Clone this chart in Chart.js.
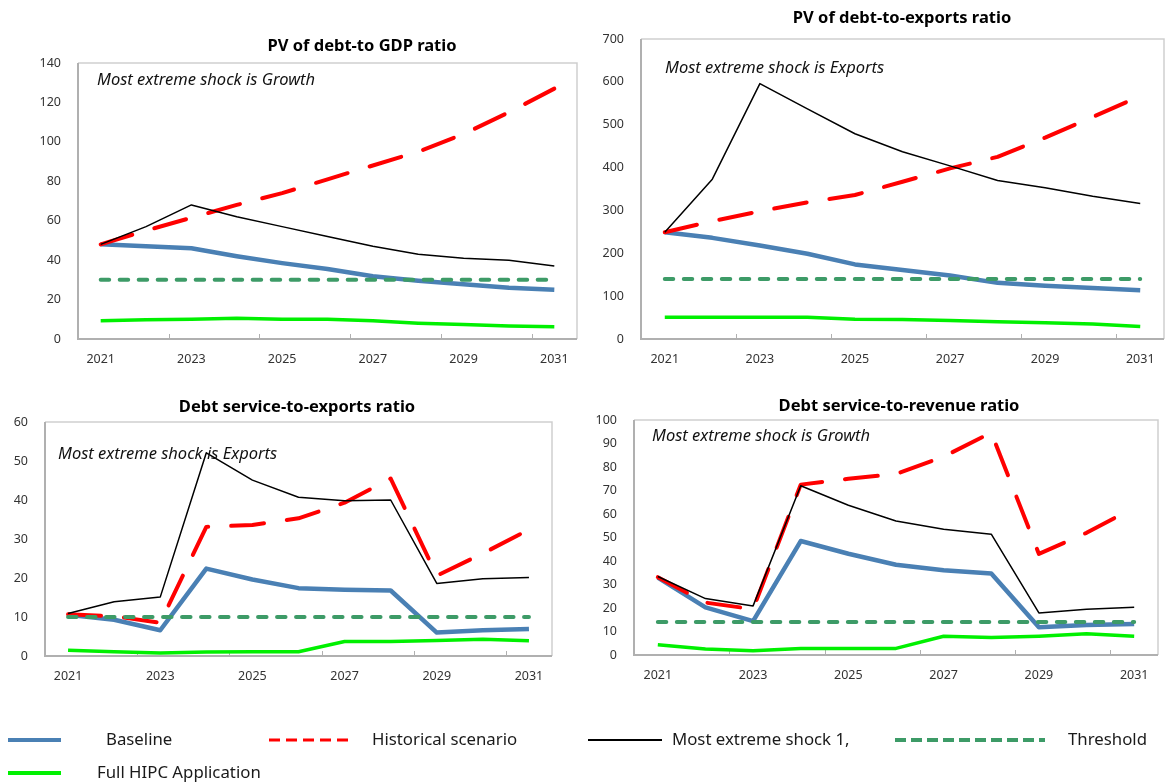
<!DOCTYPE html>
<html>
<head>
<meta charset="utf-8">
<title>Debt sustainability stress tests</title>
<script src="https://cdn.jsdelivr.net/npm/chart.js@4.4.1/dist/chart.umd.min.js"></script>
<style>
  html, body { margin: 0; padding: 0; background: #ffffff; overflow: hidden; }
  #page { position: relative; width: 1167px; height: 783px; font-family: "Noto Sans", sans-serif; }
  #page canvas { position: absolute; }
  .lg { position: absolute; font-size: 16.8px; line-height: 20px; color: #1a1a1a; white-space: nowrap; }
  #swatches { position: absolute; left: 0; top: 0; }
</style>
</head>
<body>
<div id="page">
  <canvas id="gdp" width="543" height="344" style="left:38px;top:25px"></canvas>
  <canvas id="exports" width="567" height="369" style="left:601px;top:0px"></canvas>
  <canvas id="dsExports" width="551" height="301" style="left:5px;top:385px"></canvas>
  <canvas id="dsRevenue" width="568" height="302" style="left:594px;top:383px"></canvas>

  <svg id="swatches" width="1167" height="783">
    <line x1="8" y1="740" x2="61" y2="740" stroke="#4a80b4" stroke-width="4"/>
    <line x1="269" y1="740" x2="353" y2="740" stroke="#ff0000" stroke-width="3" stroke-dasharray="11 6"/>
    <line x1="588" y1="740" x2="662" y2="740" stroke="#000000" stroke-width="2"/>
    <line x1="895" y1="740" x2="1045" y2="740" stroke="#3d9b67" stroke-width="4" stroke-dasharray="11 5"/>
    <line x1="8" y1="773" x2="61" y2="773" stroke="#00f000" stroke-width="4"/>
  </svg>
  <span class="lg" style="left:106px;top:729px">Baseline</span>
  <span class="lg" style="left:372px;top:729px">Historical scenario</span>
  <span class="lg" style="left:672px;top:729px">Most extreme shock 1,</span>
  <span class="lg" style="left:1068px;top:729px">Threshold</span>
  <span class="lg" style="left:97px;top:762px">Full HIPC Application</span>
</div>

<script>
// Projection years
const years = ['2021', '2022', '2023', '2024', '2025', '2026', '2027', '2028', '2029', '2030', '2031'];

// PV of debt-to-GDP ratio
const gdpBaseline   = [48, 47, 46, 42, 38.5, 35.5, 31.8, 29.6, 27.8, 26, 25];
const gdpHistorical = [48, 55, 61.5, 68, 74, 81, 88, 95, 104, 115, 127];
const gdpShock      = [48, 57, 68, 62, 57, 52, 47, 43, 41, 40, 37];
const gdpThreshold  = [30, 30, 30, 30, 30, 30, 30, 30, 30, 30, 30];
const gdpHipc       = [9.3, 9.8, 10, 10.5, 10, 10, 9.2, 8, 7.3, 6.6, 6.2];

// PV of debt-to-exports ratio
const expBaseline   = [249, 236, 218, 199, 174, 161, 148, 131, 124, 119, 114];
const expHistorical = [249, 275, 298, 319, 336, 367, 398, 425, 470, 518, 567];
const expShock      = [249, 373, 596, 537, 479, 437, 404, 370, 353, 333, 316];
const expThreshold  = [140, 140, 140, 140, 140, 140, 140, 140, 140, 140, 140];
const expHipc       = [51, 51, 51, 51, 46, 45.5, 43, 40.5, 38, 35, 29];

// Debt service-to-exports ratio
const dseBaseline   = [10.6, 9.3, 6.6, 22.4, 19.6, 17.4, 17, 16.8, 6, 6.6, 6.9];
const dseHistorical = [10.7, 10.2, 8.5, 33.1, 33.6, 35.3, 39.3, 45.5, 20.6, 26.3, 32.4];
const dseShock      = [10.9, 13.9, 15.1, 52.1, 45.1, 40.7, 39.8, 40, 18.6, 19.8, 20.1];
const dseThreshold  = [10, 10, 10, 10, 10, 10, 10, 10, 10, 10, 10];
const dseHipc       = [1.5, 1.1, 0.8, 1, 1.1, 1.1, 3.7, 3.7, 4, 4.3, 3.9];

// Debt service-to-revenue ratio
const dsrBaseline   = [32.9, 20.3, 14.4, 48.5, 43.1, 38.4, 36.1, 34.7, 11.8, 12.8, 13.2];
const dsrHistorical = [33.1, 22.3, 19.5, 72.5, 75, 77, 84.4, 94.6, 43, 52, 62.7];
const dsrShock      = [33.4, 24, 20.9, 72, 63.7, 57, 53.5, 51.4, 17.9, 19.5, 20.3];
const dsrThreshold  = [14, 14, 14, 14, 14, 14, 14, 14, 14, 14, 14];
const dsrHipc       = [4.4, 2.6, 1.8, 2.8, 2.8, 2.8, 8, 7.4, 8, 9, 8];

// Series names
const seriesNames = ['Baseline', 'Historical scenario', 'Most extreme shock 1', 'Threshold', 'Full HIPC Application'];

Chart.defaults.font.family = '"Noto Sans", sans-serif';
Chart.defaults.color = '#333333';

// Frame, inward tick marks, panel title and shock note
const panelText = {
  id: 'panelText',
  beforeDatasetsDraw(chart) {
    const { ctx, chartArea: a } = chart;
    const xs = chart.scales.x;
    ctx.save();
    ctx.lineWidth = 1.5;
    ctx.strokeStyle = '#cfcfcf';
    ctx.beginPath();
    ctx.moveTo(a.left, a.top); ctx.lineTo(a.right, a.top); ctx.lineTo(a.right, a.bottom);
    ctx.stroke();
    ctx.lineWidth = 2;
    ctx.strokeStyle = '#b0b0b0';
    ctx.beginPath();
    ctx.moveTo(a.left, a.top); ctx.lineTo(a.left, a.bottom); ctx.lineTo(a.right, a.bottom);
    ctx.stroke();
    ctx.lineWidth = 1;
    ctx.beginPath();
    for (let i = 2; i < xs.ticks.length; i += 2) {
      const x = Math.round((xs.getPixelForValue(i - 1) + xs.getPixelForValue(i)) / 2) + 0.5;
      ctx.moveTo(x, a.bottom);
      ctx.lineTo(x, a.bottom - 5);
    }
    ctx.stroke();
    ctx.restore();
  },
  afterDraw(chart, args, opts) {
    const { ctx, chartArea: a } = chart;
    ctx.save();
    ctx.fillStyle = '#000000';
    ctx.textBaseline = 'middle';
    ctx.font = 'bold 16.5px "Noto Sans", sans-serif';
    ctx.textAlign = 'center';
    ctx.fillText(opts.title, (a.left + a.right) / 2 + opts.titleDx, a.top - opts.titleDy);
    ctx.font = 'italic 16.5px "Noto Sans", sans-serif';
    ctx.textAlign = 'left';
    ctx.fillStyle = '#111111';
    ctx.fillText(opts.note, a.left + opts.noteDx, a.top + opts.noteDy);
    ctx.restore();
  }
};

function series(label, data, style) {
  return Object.assign({
    label: label,
    data: data,
    pointRadius: 0,
    pointHoverRadius: 0,
    tension: 0,
    fill: false,
    borderJoinStyle: 'round'
  }, style);
}

function makePanel(id, p) {
  return new Chart(document.getElementById(id), {
    type: 'line',
    data: {
      labels: years,
      datasets: [
        series(seriesNames[0], p.baseline,   { borderColor: '#4a80b4', borderWidth: 4.5, order: 5 }),
        series(seriesNames[1], p.historical, { borderColor: '#ff0000', borderWidth: 4, borderDash: [33, 23], borderCapStyle: 'round', order: 4 }),
        series(seriesNames[2], p.shock,      { borderColor: '#000000', borderWidth: 1.5, order: 3 }),
        series(seriesNames[3], p.threshold,  { borderColor: '#3d9b67', borderWidth: 4, borderDash: [8.5, 10.5], borderCapStyle: 'round', order: 2 }),
        series(seriesNames[4], p.hipc,       { borderColor: '#00f000', borderWidth: 3.5, order: 1 })
      ]
    },
    options: {
      responsive: false,
      animation: false,
      events: [],
      layout: { padding: { top: p.padTop, right: 4, left: 0, bottom: 0 } },
      plugins: {
        legend: { display: false },
        tooltip: { enabled: false },
        title: { display: false },
        panelText: {
          title: p.title, titleDx: p.titleDx, titleDy: p.titleDy,
          note: p.note, noteDx: p.noteDx, noteDy: p.noteDy
        }
      },
      scales: {
        x: {
          type: 'category',
          offset: true,
          grid: { display: false },
          border: { display: false },
          ticks: {
            autoSkip: false,
            maxRotation: 0,
            padding: 5,
            color: '#333333',
            font: { size: 12.5 },
            callback: function (value, index) { return index % 2 === 0 ? this.getLabelForValue(value) : ''; }
          },
          afterFit: function (scale) { scale.height = 30; }
        },
        y: {
          min: 0,
          max: p.max,
          grid: { display: false },
          border: { display: false },
          ticks: { stepSize: p.step, padding: 9, color: '#333333', font: { size: 12.5 } },
          afterFit: function (scale) { scale.width = 40; }
        }
      }
    },
    plugins: [panelText]
  });
}

makePanel('gdp', {
  baseline: gdpBaseline, historical: gdpHistorical, shock: gdpShock, threshold: gdpThreshold, hipc: gdpHipc,
  max: 140, step: 20, padTop: 38,
  title: 'PV of debt-to GDP ratio', titleDx: 34.5, titleDy: 17,
  note: 'Most extreme shock is Growth', noteDx: 19, noteDy: 17
});
makePanel('exports', {
  baseline: expBaseline, historical: expHistorical, shock: expShock, threshold: expThreshold, hipc: expHipc,
  max: 700, step: 100, padTop: 39,
  title: 'PV of debt-to-exports ratio', titleDx: -0.5, titleDy: 21,
  note: 'Most extreme shock is Exports', noteDx: 24, noteDy: 29
});
makePanel('dsExports', {
  baseline: dseBaseline, historical: dseHistorical, shock: dseShock, threshold: dseThreshold, hipc: dseHipc,
  max: 60, step: 10, padTop: 37,
  title: 'Debt service-to-exports ratio', titleDx: -1.5, titleDy: 15,
  note: 'Most extreme shock is Exports', noteDx: 13, noteDy: 32
});
makePanel('dsRevenue', {
  baseline: dsrBaseline, historical: dsrHistorical, shock: dsrShock, threshold: dsrThreshold, hipc: dsrHipc,
  max: 100, step: 10, padTop: 37,
  title: 'Debt service-to-revenue ratio', titleDx: 3, titleDy: 14,
  note: 'Most extreme shock is Growth', noteDx: 18, noteDy: 16
});
</script>
</body>
</html>
